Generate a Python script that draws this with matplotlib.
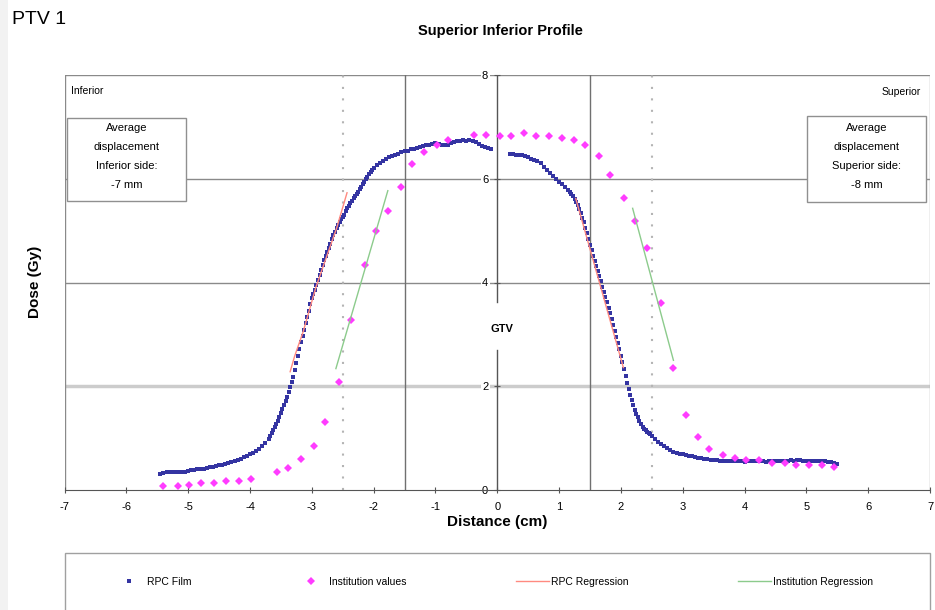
import matplotlib
matplotlib.use("Agg")
import matplotlib.pyplot as plt
from matplotlib.patches import Rectangle
from matplotlib.lines import Line2D

plt.rcParams["axes.unicode_minus"] = False

# RPC film, inferior side (cm, Gy)
film_x_inf = [-5.45, -5.40, -5.35, -5.30, -5.25, -5.20, -5.15, -5.10, -5.05, -5.00,
              -4.95, -4.90, -4.85, -4.80, -4.75, -4.70, -4.65, -4.60, -4.55, -4.50,
              -4.45, -4.40, -4.35, -4.30, -4.25, -4.20, -4.15, -4.10, -4.05, -4.00,
              -3.95, -3.90, -3.85, -3.80, -3.75, -3.70, -3.65, -3.60, -3.55, -3.50,
              -3.45, -3.40, -3.35, -3.30, -3.25, -3.20, -3.15, -3.10, -3.05, -3.00,
              -2.95, -2.90, -2.85, -2.80, -2.75, -2.70, -2.65, -2.60, -2.55, -2.50,
              -2.45, -2.40, -2.35, -2.30, -2.25, -2.20, -2.15, -2.10, -2.05, -2.00,
              -1.95, -1.90, -1.85, -1.80, -1.75, -1.70, -1.65, -1.60, -1.55, -1.50,
              -1.45, -1.40, -1.35, -1.30, -1.25, -1.20, -1.15, -1.10, -1.05, -1.00,
              -0.95, -0.90, -0.85, -0.80, -0.75, -0.70, -0.65, -0.60, -0.55, -0.50,
              -0.45, -0.40, -0.35, -0.30, -0.25, -0.20, -0.15, -0.10]
film_y_inf = [0.30, 0.33, 0.34, 0.34, 0.35, 0.34, 0.35, 0.35, 0.35, 0.36,
              0.38, 0.38, 0.40, 0.40, 0.41, 0.43, 0.44, 0.45, 0.46, 0.48,
              0.49, 0.51, 0.52, 0.54, 0.56, 0.58, 0.60, 0.63, 0.65, 0.69,
              0.72, 0.76, 0.80, 0.85, 0.91, 0.99, 1.09, 1.21, 1.33, 1.48,
              1.64, 1.80, 1.98, 2.18, 2.45, 2.72, 2.97, 3.21, 3.45, 3.70,
              3.86, 4.05, 4.25, 4.43, 4.59, 4.75, 4.91, 5.05, 5.17, 5.26,
              5.37, 5.48, 5.58, 5.66, 5.75, 5.85, 5.94, 6.04, 6.13, 6.21,
              6.27, 6.31, 6.35, 6.38, 6.41, 6.44, 6.46, 6.48, 6.51, 6.53,
              6.54, 6.57, 6.58, 6.60, 6.61, 6.64, 6.66, 6.65, 6.67, 6.68,
              6.67, 6.65, 6.66, 6.65, 6.68, 6.71, 6.73, 6.72, 6.74, 6.73,
              6.75, 6.73, 6.70, 6.67, 6.63, 6.61, 6.60, 6.57]
# extra film samples on the inferior fall-off (the scan is denser than 0.05 cm)
film_x_inf_edge = [-3.675, -3.625, -3.575, -3.525, -3.475, -3.425, -3.375, -3.325,
                   -3.275, -3.225, -3.175, -3.125, -3.075, -3.025, -2.975, -2.925,
                   -2.875, -2.825, -2.775, -2.725, -2.675, -2.625, -2.575, -2.525,
                   -2.475, -2.425, -2.375, -2.325, -2.275, -2.225, -2.175, -2.125,
                   -2.075, -2.025]
film_y_inf_edge = [1.04, 1.15, 1.27, 1.40, 1.56, 1.72, 1.89, 2.08,
                   2.31, 2.58, 2.85, 3.09, 3.33, 3.58, 3.78, 3.95,
                   4.15, 4.34, 4.51, 4.67, 4.83, 4.98, 5.11, 5.22,
                   5.31, 5.43, 5.53, 5.62, 5.70, 5.80, 5.90, 5.99,
                   6.09, 6.17]

# RPC film, superior side
film_x_sup = [0.20, 0.25, 0.30, 0.35, 0.40, 0.45, 0.50, 0.55, 0.60, 0.65,
              0.70, 0.75, 0.80, 0.85, 0.90, 0.95, 1.00, 1.05, 1.10, 1.15,
              1.20, 1.25, 1.30, 1.35, 1.40, 1.45, 1.50, 1.55, 1.60, 1.65,
              1.70, 1.75, 1.80, 1.85, 1.90, 1.95, 2.00, 2.05, 2.10, 2.15,
              2.20, 2.25, 2.30, 2.35, 2.40, 2.45, 2.50, 2.55, 2.60, 2.65,
              2.70, 2.75, 2.80, 2.85, 2.90, 2.95, 3.00, 3.05, 3.10, 3.15,
              3.20, 3.25, 3.30, 3.35, 3.40, 3.45, 3.50, 3.55, 3.60, 3.65,
              3.70, 3.75, 3.80, 3.85, 3.90, 3.95, 4.00, 4.05, 4.10, 4.15,
              4.20, 4.25, 4.30, 4.35, 4.40, 4.45, 4.50, 4.55, 4.60, 4.65,
              4.70, 4.75, 4.80, 4.85, 4.90, 4.95, 5.00, 5.05, 5.10, 5.15,
              5.20, 5.25, 5.30, 5.35, 5.40, 5.45, 5.50]
film_y_sup = [6.47, 6.47, 6.46, 6.46, 6.45, 6.43, 6.41, 6.39, 6.37, 6.34,
              6.30, 6.23, 6.16, 6.11, 6.06, 6.00, 5.94, 5.89, 5.84, 5.78,
              5.71, 5.61, 5.49, 5.34, 5.16, 4.95, 4.73, 4.52, 4.32, 4.12,
              3.92, 3.72, 3.51, 3.30, 3.07, 2.83, 2.59, 2.33, 2.07, 1.84,
              1.64, 1.47, 1.33, 1.22, 1.15, 1.10, 1.04, 0.98, 0.93, 0.89,
              0.85, 0.81, 0.78, 0.74, 0.72, 0.70, 0.69, 0.67, 0.66, 0.65,
              0.64, 0.62, 0.61, 0.60, 0.59, 0.58, 0.57, 0.57, 0.56, 0.56,
              0.55, 0.55, 0.56, 0.55, 0.55, 0.55, 0.54, 0.55, 0.55, 0.55,
              0.56, 0.55, 0.55, 0.54, 0.55, 0.55, 0.56, 0.55, 0.55, 0.56,
              0.56, 0.57, 0.56, 0.57, 0.57, 0.56, 0.56, 0.55, 0.56, 0.55,
              0.55, 0.56, 0.55, 0.54, 0.54, 0.52, 0.50]
film_x_sup_edge = [1.175, 1.225, 1.275, 1.325, 1.375, 1.425, 1.475, 1.525, 1.575,
                   1.625, 1.675, 1.725, 1.775, 1.825, 1.875, 1.925, 1.975, 2.025,
                   2.075, 2.125, 2.175, 2.225, 2.275, 2.325, 2.375, 2.425, 2.475]
film_y_sup_edge = [5.75, 5.67, 5.56, 5.42, 5.25, 5.06, 4.84, 4.62, 4.42,
                   4.22, 4.02, 3.82, 3.62, 3.41, 3.19, 2.95, 2.71, 2.46,
                   2.20, 1.95, 1.74, 1.55, 1.40, 1.27, 1.18, 1.12, 1.07]

# institution values
inst_x = [-5.40, -5.17, -4.99, -4.80, -4.58, -4.39, -4.17, -3.98, -3.57, -3.38,
          -3.17, -2.97, -2.78, -2.56, -2.37, -2.14, -1.96, -1.77, -1.56, -1.38,
          -1.19, -0.97, -0.79, -0.38, -0.19,
          0.04, 0.22, 0.44, 0.63, 0.83, 1.05, 1.24, 1.42, 1.64, 1.83,
          2.05, 2.23, 2.42, 2.65, 2.84, 3.06, 3.24, 3.43, 3.65, 3.84,
          4.03, 4.24, 4.44, 4.65, 4.84, 5.04, 5.25, 5.45]
inst_y = [0.08, 0.08, 0.09, 0.13, 0.13, 0.17, 0.17, 0.22, 0.34, 0.43,
          0.60, 0.84, 1.32, 2.08, 3.27, 4.33, 5.00, 5.38, 5.85, 6.29,
          6.52, 6.66, 6.75, 6.84, 6.84,
          6.83, 6.83, 6.89, 6.83, 6.83, 6.79, 6.74, 6.66, 6.44, 6.08,
          5.63, 5.19, 4.66, 3.60, 2.35, 1.45, 1.02, 0.79, 0.67, 0.61,
          0.57, 0.57, 0.53, 0.53, 0.48, 0.48, 0.48, 0.44]

# regression lines
rpc_reg_inf_x = [-3.35, -3.28, -3.14, -2.93, -2.76, -2.60, -2.43]
rpc_reg_inf_y = [2.28, 2.57, 3.05, 3.92, 4.50, 5.04, 5.73]
rpc_reg_sup_x = [1.27, 2.04]
rpc_reg_sup_y = [5.62, 2.36]
inst_reg_inf_x = [-2.61, -1.77]
inst_reg_inf_y = [2.34, 5.77]
inst_reg_sup_x = [2.19, 2.85]
inst_reg_sup_y = [5.43, 2.50]

x_ticks = [-7, -6, -5, -4, -3, -2, -1, 0, 1, 2, 3, 4, 5, 6, 7]
y_ticks = [0, 2, 4, 6, 8]

film_col = "#3434a2"
inst_col = "#ff3cff"
rpc_reg_col = "#ff8a80"
inst_reg_col = "#8ccb8c"
arial = ["Liberation Sans", "DejaVu Sans"]
narrow = ["Liberation Sans Narrow", "Liberation Sans", "DejaVu Sans"]

fig = plt.figure(figsize=(9.35, 6.1), dpi=100)
fig.add_artist(Rectangle((0, 0), 8 / 935, 1, transform=fig.transFigure,
                         facecolor="#f2f2f2", edgecolor="none", zorder=-5))

ax = fig.add_axes([64.5 / 935, 1 - 490 / 610, 865.5 / 935, 415 / 610])
ax.set_xlim(-7, 7)
ax.set_ylim(0, 8)

# grid / reference lines
ax.axhline(6, color="#8a8a8a", lw=1, zorder=1)
ax.axhline(4, color="#8a8a8a", lw=1, zorder=1)
ax.axhline(2, color="#cccccc", lw=2.5, zorder=1)
ax.axhline(8, color="#8a8a8a", lw=1, zorder=1)
ax.axvline(-7, color="#8a8a8a", lw=1, zorder=1)
ax.axvline(7, color="#b0b0b0", lw=1, zorder=1)
ax.axvline(-1.5, color="#707070", lw=1, zorder=1)
ax.axvline(1.5, color="#707070", lw=1, zorder=1)
ax.axvline(-2.5, color="#b4b4b4", lw=1.5, ls=(0, (1, 4.5)), zorder=1)
ax.axvline(2.5, color="#b4b4b4", lw=1.5, ls=(0, (1, 4.5)), zorder=1)

# y axis through x=0, broken around the GTV label
for sp in ["top", "right"]:
    ax.spines[sp].set_visible(False)
ax.spines["left"].set_position(("data", 0))
ax.spines["left"].set_visible(False)
ax.spines["bottom"].set_color("#555555")
ax.plot([0, 0], [0, 2.7], color="#555555", lw=1, zorder=2)
ax.plot([0, 0], [3.63, 8], color="#555555", lw=1, zorder=2)
ax.text(0.08, 3.1, "GTV", ha="center", va="center", fontsize=8,
        fontweight="bold", family=arial, zorder=6)

ax.set_xticks(x_ticks)
ax.set_yticks(y_ticks)
ax.tick_params(axis="both", direction="inout", length=5, width=0.8,
               color="#555555", labelsize=8)
ax.tick_params(axis="x", pad=6)
ax.tick_params(axis="y", pad=4)
for lab in ax.get_xticklabels() + ax.get_yticklabels():
    lab.set_family(arial)
for lab in ax.get_yticklabels():
    lab.set_bbox(dict(facecolor="white", edgecolor="none", pad=1))

# data
film_style = dict(ls="none", marker="s", ms=2.4, mew=0, color=film_col, zorder=4)
ax.plot(film_x_inf, film_y_inf, **film_style)
ax.plot(film_x_inf_edge, film_y_inf_edge, **film_style)
ax.plot(film_x_sup, film_y_sup, **film_style)
ax.plot(film_x_sup_edge, film_y_sup_edge, **film_style)
ax.plot(inst_x, inst_y, ls="none", marker="D", ms=3.8, mew=0,
        color=inst_col, zorder=4)
ax.plot(rpc_reg_inf_x, rpc_reg_inf_y, color=rpc_reg_col, lw=1, zorder=5)
ax.plot(rpc_reg_sup_x, rpc_reg_sup_y, color=rpc_reg_col, lw=1, zorder=5)
ax.plot(inst_reg_inf_x, inst_reg_inf_y, color=inst_reg_col, lw=1, zorder=5)
ax.plot(inst_reg_sup_x, inst_reg_sup_y, color=inst_reg_col, lw=1, zorder=5)

ax.text(-6.9, 7.7, "Inferior", ha="left", va="center", fontsize=7.5, family=narrow)
ax.text(6.85, 7.67, "Superior", ha="right", va="center", fontsize=7.5, family=narrow)

ax.set_xlabel("Distance (cm)", fontsize=11, fontweight="bold", family=arial, labelpad=2)
fig.text(35 / 935, 1 - 282 / 610, "Dose (Gy)", rotation=90, ha="center", va="center",
         fontsize=11, fontweight="bold", family=arial)

fig.text(500 / 935, 1 - 31 / 610, "Superior Inferior Profile", ha="center", va="center",
         fontsize=10.5, fontweight="bold", family=arial)
fig.text(12 / 935, 1 - 20 / 610, "PTV 1", ha="left", va="center",
         fontsize=14, family=arial)

# displacement boxes
def disp_box(x0, x1, y0, y1, lines):
    fig.add_artist(Rectangle((x0 / 935, 1 - y1 / 610), (x1 - x0) / 935, (y1 - y0) / 610,
                             transform=fig.transFigure, facecolor="white",
                             edgecolor="#909090", lw=1, zorder=5))
    cx = (x0 + x1) / 2 / 935
    for i, t in enumerate(lines):
        fig.text(cx, 1 - (128 + 19 * i) / 610, t, ha="center", va="center",
                 fontsize=8, family=arial, zorder=6)

disp_box(67, 186, 118, 201, ["Average", "displacement", "Inferior side:", "-7 mm"])
disp_box(807, 926, 116, 202, ["Average", "displacement", "Superior side:", "-8 mm"])

# legend frame, then one entry per slot
fig.add_artist(Rectangle((65 / 935, -0.05), 865 / 935, 0.05 + 1 - 553 / 610,
                         transform=fig.transFigure, facecolor="white",
                         edgecolor="#a0a0a0", lw=1, zorder=5, clip_on=False))
handles = [
    Line2D([], [], ls="none", marker="s", ms=2.4, mew=0, color=film_col),
    Line2D([], [], ls="none", marker="D", ms=3.8, mew=0, color=inst_col),
    Line2D([], [], color=rpc_reg_col, lw=1),
    Line2D([], [], color=inst_reg_col, lw=1),
]
labels = ["RPC Film", "Institution values", "RPC Regression", "Institution Regression"]
slot_x = [112, 294, 516, 738]
for h, lab, sx in zip(handles, labels, slot_x):
    leg = fig.legend([h], [lab], loc="center left",
                     bbox_to_anchor=(sx / 935, 1 - 582 / 610), frameon=False,
                     numpoints=1, handlelength=3.2, handletextpad=0.2,
                     borderpad=0, borderaxespad=0,
                     prop={"family": narrow, "size": 7.5})
    leg.set_zorder(6)

fig.savefig("out.png", dpi=100)
